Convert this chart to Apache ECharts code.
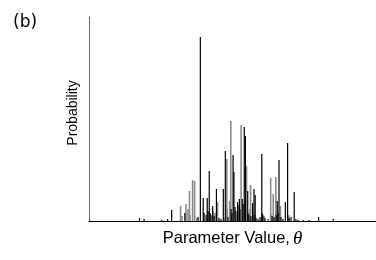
<!DOCTYPE html>
<html>
<head>
<meta charset="utf-8">
<script src="https://cdn.jsdelivr.net/npm/echarts@6/dist/echarts.min.js"></script>
<style>html,body{margin:0;padding:0;background:#fff}#c{width:376px;height:260px}</style>
</head>
<body>
<div id="c"></div>
<script>
// theta (0..100 scale) and probabilities
var blackTheta = [17.6,19.2,25.4,27.4,28.8,33.4,38.0,38.8,39.8,40.1,40.8,41.2,41.5,41.9,42.2,42.5,43.1,43.6,44.4,45.3,46.0,46.8,47.5,48.4,49.5,49.8,50.2,50.5,50.9,51.2,51.8,51.9,52.4,52.6,53.4,53.7,54.1,54.5,55.3,55.4,55.7,56.4,57.0,57.1,57.5,57.9,58.2,58.9,59.6,60.2,60.3,60.6,61.3,62.4,63.8,64.5,65.2,65.6,65.9,66.2,66.9,67.6,68.4,69.2,69.7,70.4,71.5,72.1,72.8,74.6,76.7,80.0,85.1];
var blackProb  = [0.0015,0.0010,0.0005,0.0010,0.0054,0.0039,0.0020,0.0902,0.0113,0.0039,0.0029,0.0113,0.0049,0.0245,0.0039,0.0029,0.0074,0.0025,0.0157,0.0015,0.0010,0.0157,0.0343,0.0020,0.0059,0.0039,0.0324,0.0240,0.0069,0.0049,0.0093,0.0078,0.0108,0.0059,0.0108,0.0083,0.0461,0.0417,0.0147,0.0039,0.0029,0.0025,0.0088,0.0034,0.0157,0.0127,0.0015,0.0010,0.0020,0.0328,0.0039,0.0029,0.0015,0.0010,0.0025,0.0020,0.0029,0.0098,0.0039,0.0299,0.0020,0.0010,0.0093,0.0382,0.0015,0.0020,0.0142,0.0010,0.0005,0.0005,0.0005,0.0020,0.0010];
var grayTheta  = [31.9,32.4,33.8,34.5,35.0,35.2,36.1,36.8,37.6,43.2,43.9,44.8,47.0,48.0,48.1,49.0,49.4,53.0,54.4,54.9,56.1,56.3,57.8,61.0,63.3,63.4,64.2,65.1,66.7,69.6];
var grayProb   = [0.0074,0.0025,0.0083,0.0059,0.0147,0.0029,0.0201,0.0196,0.0015,0.0049,0.0039,0.0093,0.0015,0.0304,0.0059,0.0098,0.0490,0.0471,0.0098,0.0270,0.0059,0.0176,0.0029,0.0025,0.0211,0.0034,0.0132,0.0216,0.0074,0.0029];

function pairs(xs, ys){ var out=[]; for(var i=0;i<xs.length;i++) out.push([xs[i], ys[i]]); return out; }

function spike(color, width){
  return function(params, api){
    var p0 = api.coord([api.value(0), 0]);
    var p1 = api.coord([api.value(0), api.value(1)]);
    return {type:'line', shape:{x1:p0[0],y1:p0[1],x2:p1[0],y2:p1[1]}, style:{stroke:color, lineWidth:width}};
  };
}

var sans = 'Liberation Sans, Arial, sans-serif';
var chart = echarts.init(document.getElementById('c'), null, {renderer:'canvas'});
chart.setOption({
  animation:false,
  backgroundColor:'#fff',
  grid:{left:89, right:0, top:17, bottom:39},
  title:{text:'(b)', left:8, top:9, textStyle:{fontFamily:'DejaVu Sans, sans-serif', fontSize:17, fontWeight:'normal', color:'#000'}},
  xAxis:{type:'value', min:0, max:100, axisLine:{show:true, lineStyle:{color:'#000', width:1}}, axisTick:{show:false}, axisLabel:{show:false}, splitLine:{show:false},
    name:'Parameter Value,{t|θ}', nameLocation:'middle', nameGap:8,
    nameTextStyle:{fontFamily:sans, fontSize:16.5, color:'#000',
      rich:{t:{fontFamily:'Liberation Serif, DejaVu Serif, serif', fontStyle:'italic', fontSize:19, color:'#000', padding:[0,0,0,3]}}}},
  yAxis:{type:'value', min:0, max:0.1, axisLine:{show:true, lineStyle:{color:'#666', width:1}}, axisTick:{show:false}, axisLabel:{show:false}, splitLine:{show:false},
    name:'Probability', nameLocation:'middle', nameGap:9, nameRotate:90,
    nameTextStyle:{fontFamily:sans, fontSize:14, color:'#000', padding:[0,0,0,12]}},
  series:[
    {type:'custom', renderItem:spike('#8a8a8a',1.6), data:pairs(grayTheta, grayProb), encode:{x:0,y:1}, z:2},
    {type:'custom', renderItem:spike('#000',1.2), data:pairs(blackTheta, blackProb), encode:{x:0,y:1}, z:3}
  ]
});
</script>
</body>
</html>
